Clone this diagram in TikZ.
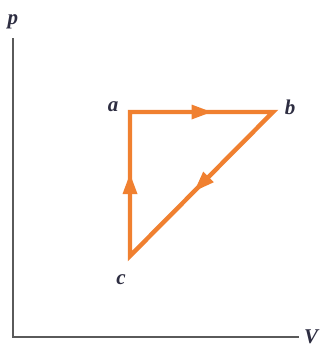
\documentclass[tikz,border=0pt]{standalone}
\usepackage{fontspec}
\setmainfont{Liberation Serif}
\usetikzlibrary{decorations.markings}
\definecolor{path}{RGB}{240,128,48}
\definecolor{axis}{RGB}{90,90,90}
\definecolor{lbl}{RGB}{45,45,65}
\tikzset{
  x=1pt,y=-1pt,
  axisline/.style={draw=axis,line width=1.4pt},
  leg/.style={postaction={decorate,decoration={markings,
      mark=at position 0.5 with {\fill[path] (10pt,0pt) -- (-10pt,7.5pt) -- (-10pt,-7.5pt) -- cycle;}}}},
  lab/.style={text=lbl,font=\fontsize{21}{21}\selectfont\itshape\bfseries,inner sep=0pt}
}
\begin{document}
\begin{tikzpicture}
\useasboundingbox (0,0) rectangle (320,348);
\fill[white] (0,0) rectangle (320,348);
\coordinate (top) at (13,38);
\coordinate (org) at (13,337);
\coordinate (right) at (299,337);
\draw[axisline] (top) -- (org) -- (right);
\node[lab] (p) at (13,22) {p};
\node[lab] (V) at (311,337) {V};
\coordinate (a) at (130,112);
\coordinate (b) at (273,112);
\coordinate (c) at (130,256);
\draw[draw=path,line width=4.4pt,line join=miter] (a) -- (b) -- (c) -- cycle;
\path[leg] (a) -- (b);
\path[leg] (b) -- (c);
\path[leg] (c) -- (a);
\node[lab] (la) at (113,107) {a};
\node[lab] (lb) at (290,107) {b};
\node[lab] (lc) at (121,280) {c};
\end{tikzpicture}
\end{document}
